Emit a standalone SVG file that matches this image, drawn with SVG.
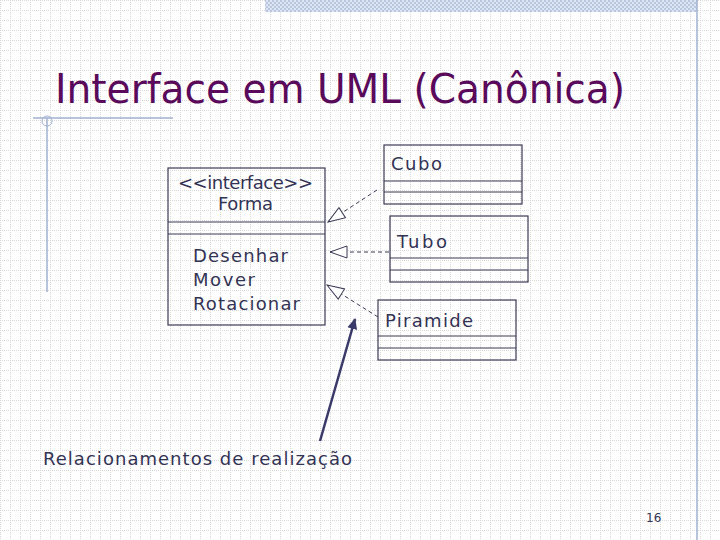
<svg xmlns="http://www.w3.org/2000/svg" width="720" height="540" viewBox="0 0 720 540">
<style>
.box{fill:none;stroke:#3a3a55;stroke-width:1.2}
.t{font-family:"DejaVu Sans",Verdana,sans-serif;font-size:18px;fill:#333355}
.dash{stroke:#3a3a55;stroke-width:1;stroke-dasharray:4 3;fill:none}
</style>
<defs>
<pattern id="g" width="10" height="10" patternUnits="userSpaceOnUse">
<path d="M0 0.5H10M0.5 0V10" stroke="#d8d8d8" stroke-width="1" stroke-dasharray="1 1"/>
</pattern>
<pattern id="h" width="4" height="4" patternUnits="userSpaceOnUse">
<rect width="4" height="4" fill="#dde5f2"/><rect width="2" height="2" fill="#b8c6e0"/><rect x="2" y="2" width="2" height="2" fill="#b8c6e0"/>
</pattern>
<marker id="tri" markerWidth="20" markerHeight="14" refX="19" refY="7" orient="auto" markerUnits="userSpaceOnUse">
<path d="M19 7L2 1V13Z" fill="#fff" stroke="#3a3a55" stroke-width="1"/>
</marker>
<marker id="ah" markerWidth="12" markerHeight="12" refX="10" refY="6" orient="auto" markerUnits="userSpaceOnUse">
<path d="M0 1L11 6L0 11Z" fill="#3a3a6a"/>
</marker>
</defs>
<rect width="720" height="540" fill="#fff"/>
<rect width="720" height="540" fill="url(#g)"/>
<rect x="265" y="0" width="432" height="12" fill="url(#h)"/>
<line x1="697" y1="0" x2="697" y2="540" stroke="#9fb0d0" stroke-width="1.5"/>
<line x1="33" y1="118" x2="173" y2="118" stroke="#9fb0d0" stroke-width="1.5"/>
<line x1="47" y1="118" x2="47" y2="292" stroke="#9fb0d0" stroke-width="1.5"/>
<circle cx="47" cy="121" r="5" fill="none" stroke="#9fb0d0"/>
<text x="55" y="103" font-family="'DejaVu Sans Condensed','DejaVu Sans',sans-serif" font-size="40" fill="#5a0a5a" textLength="570" lengthAdjust="spacingAndGlyphs">Interface em UML (Canônica)</text>
<g id="forma">
<rect class="box" x="168" y="168" width="157" height="157"/>
<line class="box" x1="168" y1="222" x2="325" y2="222"/>
<line class="box" x1="168" y1="234" x2="325" y2="234"/>
<text class="t" x="178" y="189" font-size="17" textLength="135">&lt;&lt;interface&gt;&gt;</text>
<text class="t" x="218" y="210" font-size="17" textLength="55">Forma</text>
<text class="t" x="193" y="262" textLength="95">Desenhar</text>
<text class="t" x="193" y="286" textLength="62">Mover</text>
<text class="t" x="193" y="310" textLength="107">Rotacionar</text>
</g>
<g id="cubo">
<rect class="box" x="384" y="145" width="138" height="59"/>
<line class="box" x1="384" y1="181" x2="522" y2="181"/>
<line class="box" x1="384" y1="192" x2="522" y2="192"/>
<text class="t" x="391" y="170" textLength="51">Cubo</text>
</g>
<g id="tubo">
<rect class="box" x="390" y="216" width="138" height="66"/>
<line class="box" x1="390" y1="258" x2="528" y2="258"/>
<line class="box" x1="390" y1="270" x2="528" y2="270"/>
<text class="t" x="397" y="248" textLength="50">Tubo</text>
</g>
<g id="piramide">
<rect class="box" x="378" y="300" width="138" height="60"/>
<line class="box" x1="378" y1="336" x2="516" y2="336"/>
<line class="box" x1="378" y1="348" x2="516" y2="348"/>
<text class="t" x="385" y="327" textLength="88">Piramide</text>
</g>
<g id="connectors">
<path class="dash" d="M377 190L328 222" marker-end="url(#tri)"/>
<path class="dash" d="M389 252L330 252" marker-end="url(#tri)"/>
<path class="dash" d="M378 317L327 285" marker-end="url(#tri)"/>
<path d="M320 441L355 319" stroke="#3a3a6a" stroke-width="2.5" fill="none" marker-end="url(#ah)"/>
</g>
<text class="t" x="43" y="465" textLength="309">Relacionamentos de realização</text>
<text x="646" y="522" font-family="'DejaVu Sans',sans-serif" font-size="12" fill="#333355">16</text>
</svg>
